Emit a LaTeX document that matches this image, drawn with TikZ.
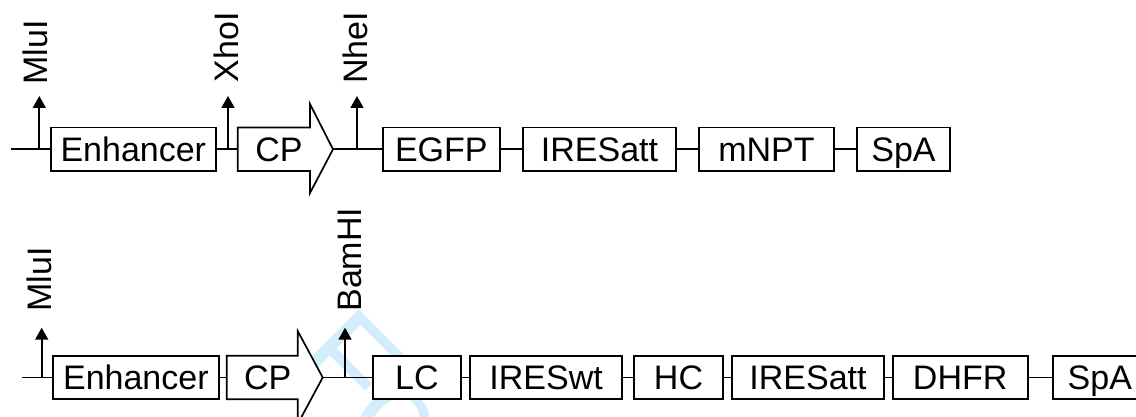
\documentclass[tikz,border=0pt]{standalone}
\usepackage{fontspec}
\setmainfont{Liberation Sans}
\usetikzlibrary{arrows.meta}

\definecolor{wmblue}{RGB}{210,237,251}

\begin{document}
\begin{tikzpicture}[x=1pt,y=-1pt,
  line width=1.7pt,
  lbl/.style={font=\fontsize{34}{34}\selectfont},
  part/.style={lbl, draw, fill=white, inner sep=0pt, minimum height=43.4pt,
    text height=24.3pt, text depth=0pt},
  promoter/.style={draw, fill=white, line join=miter},
  cptext/.style={lbl, inner sep=0pt, text height=24.3pt, text depth=0pt},
  site/.style={-{Triangle[width=13pt,length=12pt]}},
  sitelabel/.style={lbl, rotate=90, anchor=base west, inner sep=0pt},
  backbone/.style={line width=1.7pt},
]
\useasboundingbox (0,0) rectangle (1136,417);
\clip (0,0) rectangle (1136,417);

% faint diagonal stamp behind the drawing (only its first letters fall inside)
\node[rotate=-45, anchor=base west, inner sep=0pt, text=wmblue,
      font=\fontsize{130}{130}\selectfont] (stamp) at (288,365) {Fo};

% ---------------- upper construct ----------------
\coordinate (a0) at (11,149.3);
\node[part, minimum width=165.3pt] (a1) at (133.3,149.3) {Enhancer};
\draw[promoter] (237.7,127.6) -- (310,127.6) -- (310,104) -- (333,149.3)
  -- (310,193) -- (310,171) -- (237.7,171) -- cycle;
\coordinate (a2w) at (237.7,149.3);
\coordinate (a2e) at (333,149.3);
\node[cptext] (a2) at (279,149.3) {CP};
\node[part, minimum width=117.3pt] (a3) at (441.3,149.3) {EGFP};
\node[part, minimum width=152.4pt] (a4) at (599.5,149.3) {IRESatt};
\node[part, minimum width=134.4pt] (a5) at (766.5,149.3) {mNPT};
\node[part, minimum width=93pt] (a6) at (903.5,149.3) {SpA};

\draw[backbone] (a0) -- (a1.west);
\draw[backbone] (a1.east) -- (a2w);
\draw[backbone] (a2e) -- (a3.west);
\draw[backbone] (a3.east) -- (a4.west);
\draw[backbone] (a4.east) -- (a5.west);
\draw[backbone] (a5.east) -- (a6.west);

% restriction sites, upper construct
\coordinate (sa1) at (39.3,149.3);  \coordinate (ta1) at (39.3,96);
\coordinate (sa2) at (228,149.3);   \coordinate (ta2) at (228,96);
\coordinate (sa3) at (357,149.3);   \coordinate (ta3) at (357,96);
\draw[site] (sa1) -- (ta1);
\draw[site] (sa2) -- (ta2);
\draw[site] (sa3) -- (ta3);
\node[sitelabel] (la1) at (47,85.5) {MluI};
\node[sitelabel] (la2) at (238,83) {XhoI};
\node[sitelabel] (la3) at (367,84.5) {NheI};

% ---------------- lower construct ----------------
\coordinate (b0) at (22,377.5);
\node[part, minimum width=166.3pt] (b1) at (135.85,377.5) {Enhancer};
\draw[promoter] (226.7,355.8) -- (297.7,355.8) -- (297.7,331) -- (322.7,377.5)
  -- (297.7,424) -- (297.7,399.2) -- (226.7,399.2) -- cycle;
\coordinate (b2w) at (226.7,377.5);
\coordinate (b2e) at (322.7,377.5);
\node[cptext] (b2) at (267.8,377.5) {CP};
\node[part, minimum width=88.3pt] (b3) at (416.85,377.5) {LC};
\node[part, minimum width=152.3pt] (b4) at (546.15,377.5) {IRESwt};
\node[part, minimum width=88.4pt] (b5) at (678.5,377.5) {HC};
\node[part, minimum width=152.6pt] (b6) at (808,377.5) {IRESatt};
\node[part, minimum width=135pt] (b7) at (960.2,377.5) {DHFR};
\node[part, minimum width=93pt] (b8) at (1099.8,377.5) {SpA};

\draw[backbone] (b0) -- (b1.west);
\draw[backbone] (b1.east) -- (b2w);
\draw[backbone] (b2e) -- (b3.west);
\draw[backbone] (b3.east) -- (b4.west);
\draw[backbone] (b4.east) -- (b5.west);
\draw[backbone] (b5.east) -- (b6.west);
\draw[backbone] (b6.east) -- (b7.west);
\draw[backbone] (b7.east) -- (b8.west);

% restriction sites, lower construct
\coordinate (sb1) at (41.7,377.5);  \coordinate (tb1) at (41.7,327.7);
\coordinate (sb2) at (345,377.5);   \coordinate (tb2) at (345,327.7);
\draw[site] (sb1) -- (tb1);
\draw[site] (sb2) -- (tb2);
\node[sitelabel] (lb1) at (51.7,312.5) {MluI};
\node[sitelabel] (lb2) at (361.7,312.5) {BamHI};
\end{tikzpicture}
\end{document}
